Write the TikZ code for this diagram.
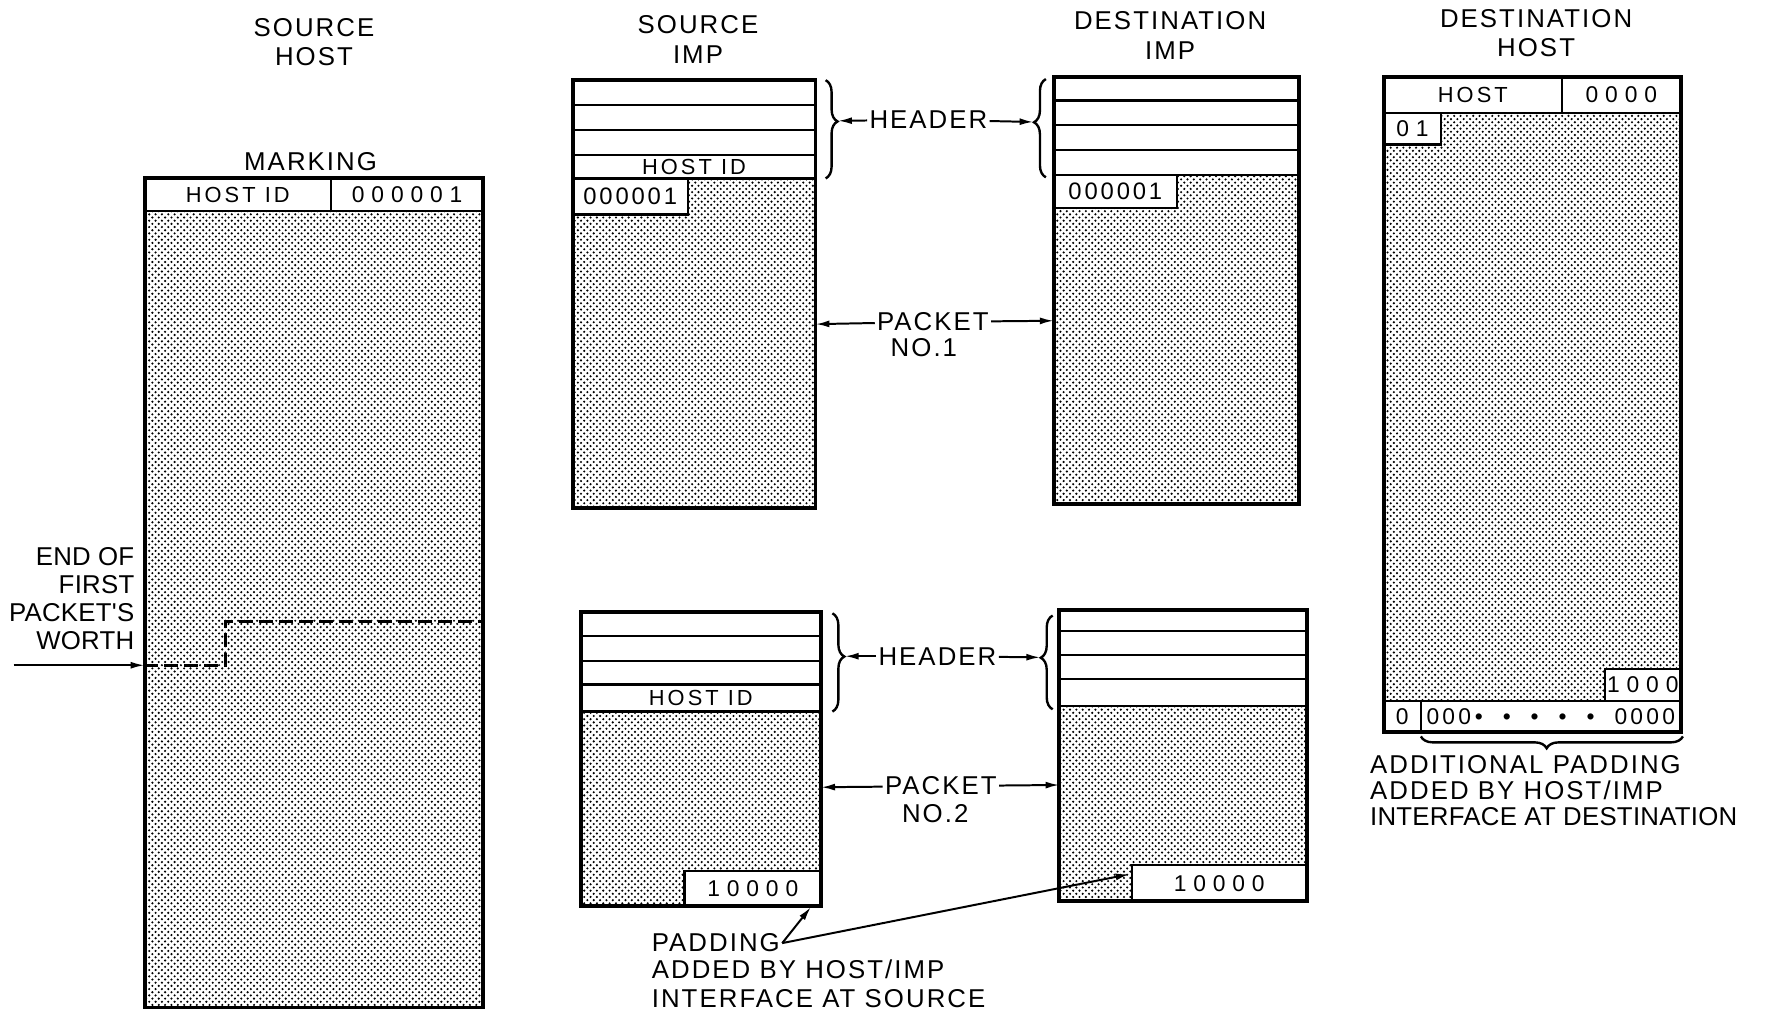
\documentclass[tikz,border=0pt]{standalone}
\usepackage{fontspec}
\setmainfont{Liberation Sans}
\newfontfamily\lettering[LetterSpace=8]{Liberation Sans}
\newfontfamily\plainletters[LetterSpace=1]{Liberation Sans}
\newfontfamily\cellfont[LetterSpace=14]{Liberation Sans}
\newfontfamily\digitfont[LetterSpace=30]{Liberation Sans}
\newfontfamily\tightdigits[LetterSpace=12]{Liberation Sans}
\usetikzlibrary{positioning, arrows.meta, patterns, decorations.pathreplacing}

% dot screen for the packet contents
\pgfdeclarepatternformonly{finedots}{\pgfqpoint{-0.8pt}{-0.8pt}}{\pgfqpoint{2.4pt}{2.4pt}}{\pgfqpoint{3.2pt}{3.2pt}}{%
  \pgfpathcircle{\pgfqpoint{0pt}{0pt}}{0.6pt}%
  \pgfpathcircle{\pgfqpoint{1.6pt}{1.6pt}}{0.6pt}%
  \pgfusepath{fill}}

\tikzset{
  frame/.style={line width=2pt},
  row/.style={line width=1.1pt},
  screen/.style={pattern=finedots},
  cell/.style={draw, line width=1.1pt, fill=white, inner sep=0pt, font=\cellfont\fontsize{11}{13}\selectfont},
  num/.style={font=\digitfont\fontsize{11.5}{13}\selectfont},
  seqnum/.style={font=\tightdigits\fontsize{12}{13}\selectfont},
  title/.style={align=center, inner sep=0pt, font=\lettering\fontsize{13}{14.7}\selectfont},
  lbl/.style={inner sep=1pt, font=\lettering\fontsize{13}{13}\selectfont},
  pointer/.style={-{Latex[length=7pt,width=3.5pt]}, line width=1pt},
  brc/.style={decorate, decoration={brace, amplitude=6pt, aspect=#1}, line width=1.2pt},
  brc/.default=0.5
}

\begin{document}
\begin{tikzpicture}[x=0.02cm, y=-0.02cm]
    \useasboundingbox (0,0) rectangle (1568,901);

    % Titles
    \node[title] (tsh) at (278,37) {SOURCE\\HOST};
    \node[title] (tsi) at (618,35) {SOURCE\\IMP};
    \node[title] (tdi) at (1036,31.5) {DESTINATION\\IMP};
    \node[title] (tdh) at (1360,29) {DESTINATION\\HOST};
    \node[title] (mark) at (275,143) {MARKING};

    % Source host message
    \fill[screen] (128,187) rectangle (428,892);
    \node[cell, minimum width=3.3cm, minimum height=0.58cm] (shid) at (210.5,172.5) {HOST ID};
    \node[cell, num, minimum width=2.7cm, minimum height=0.58cm] (shseq) at (360.5,172.5) {000001};
    \draw[frame] (128,158) rectangle (428,892);
    \draw[line width=1.5pt, dash pattern=on 7pt off 3pt] (128,589) -- (200,589) -- (200,550) -- (428,550);
    \node[lbl, align=right, anchor=east, font=\plainletters\fontsize{13}{14.2}\selectfont] (endlbl) at (121,530) {END OF\\FIRST\\PACKET'S\\WORTH};
    \coordinate (ewtail) at (12,589);
    \coordinate (shedge) at (128,589);
    \draw[pointer] (ewtail) -- (shedge);

    % Source IMP, packet 1
    \fill[screen] (507,158) rectangle (722,450);
    \draw[row] (507,93) -- (722,93) (507,115) -- (722,115) (507,137) -- (722,137);
    \node[cell, minimum width=4.3cm, minimum height=0.42cm] (s1host) at (614.5,147.5) {HOST ID};
    \node[cell, seqnum, minimum width=2.04cm, minimum height=0.64cm] (s1seq) at (558,174) {000001};
    \draw[frame] (507,71) rectangle (722,450);

    % Destination IMP, packet 1
    \fill[screen] (933,155) rectangle (1150,446);
    \draw[row] (933,89) -- (1150,89) (933,111) -- (1150,111) (933,133) -- (1150,133) (933,155) -- (1150,155);
    \node[cell, seqnum, minimum width=2.18cm, minimum height=0.58cm] (d1seq) at (987.5,169.5) {000001};
    \draw[frame] (933,68) rectangle (1150,446);

    % Header and packet 1 labels
    \draw[brc=0.42] (731,71) -- (731,158);
    \draw[brc=0.56] (926,157) -- (926,70);
    \coordinate (s1brace) at (742,107);
    \coordinate (d1brace) at (915,108);
    \node[lbl] (hdr1) at (822,106) {HEADER};
    \draw[pointer] (hdr1) -- (s1brace);
    \draw[pointer] (hdr1) -- (d1brace);
    \node[lbl] (pk1) at (826,285) {PACKET};
    \node[lbl] (pk1no) at (818,308) {NO.1};
    \coordinate (s1edge) at (722,287);
    \coordinate (d1edge) at (933,284);
    \draw[pointer] (pk1) -- (s1edge);
    \draw[pointer] (pk1) -- (d1edge);

    % Source IMP, packet 2
    \fill[screen] (514,630) rectangle (727,802);
    \draw[row] (514,563) -- (727,563) (514,585) -- (727,585) (514,606) -- (727,606);
    \node[cell, minimum width=4.26cm, minimum height=0.48cm] (s2host) at (620.5,618) {HOST ID};
    \node[cell, num, minimum width=2.42cm, minimum height=0.62cm] (s2seq) at (666.5,786.5) {10000};
    \draw[frame] (514,542) rectangle (727,802);

    % Destination IMP, packet 2
    \fill[screen] (938,625) rectangle (1157,798);
    \draw[row] (938,559) -- (1157,559) (938,580) -- (1157,580) (938,601) -- (1157,601) (938,625) -- (1157,625);
    \node[cell, num, minimum width=3.1cm, minimum height=0.64cm] (d2seq) at (1079.5,782) {10000};
    \draw[frame] (938,540) rectangle (1157,798);

    % Header and packet 2 labels
    \draw[brc=0.44] (737,543) -- (737,630);
    \draw[brc=0.55] (932,628) -- (932,545);
    \coordinate (s2brace) at (748,581);
    \coordinate (d2brace) at (921,582);
    \node[lbl] (hdr2) at (830,581) {HEADER};
    \draw[pointer] (hdr2) -- (s2brace);
    \draw[pointer] (hdr2) -- (d2brace);
    \node[lbl] (pk2) at (833,696) {PACKET};
    \node[lbl] (pk2no) at (828,720) {NO.2};
    \coordinate (s2edge) at (727,697);
    \coordinate (d2edge) at (938,695);
    \draw[pointer] (pk2) -- (s2edge);
    \draw[pointer] (pk2) -- (d2edge);

    % Padding at source
    \node[lbl, anchor=west] (padw) at (575,835) {PADDING};
    \node[lbl, anchor=north west, align=left, font=\lettering\fontsize{13}{14.5}\selectfont] (padrest) at (575,848) {ADDED BY HOST/IMP\\INTERFACE AT SOURCE};
    \coordinate (srcpad) at (718,803);
    \coordinate (dstpad) at (1000,774);
    \draw[pointer] (padw.east) -- (srcpad);
    \draw[pointer] (padw.east) -- (dstpad);

    % Destination host message
    \fill[screen] (1225,100) rectangle (1488,621);
    \node[cell, minimum width=3.16cm, minimum height=0.64cm] (dhhost) at (1304,84) {HOST};
    \node[cell, num, minimum width=2.1cm, minimum height=0.64cm] (dhzero) at (1435.5,84) {0000};
    \node[cell, num, minimum width=1.02cm, minimum height=0.56cm] (dhone) at (1250.5,114) {01};
    \node[cell, num, minimum width=1.34cm, minimum height=0.58cm] (dhlast) at (1454.5,606.5) {1000};
    \node[cell, num, minimum width=0.66cm, minimum height=0.54cm] (dhbit) at (1241.5,634.5) {0};
    \node[cell, minimum width=4.6cm, minimum height=0.54cm, text width=4.4cm, align=left, font=\cellfont\fontsize{11.5}{13}\selectfont] (dhpad) at (1373,634.5)
        {000\,\textbullet\hspace{\fill}\textbullet\hspace{\fill}\textbullet\hspace{\fill}\textbullet\hspace{\fill}\textbullet\hspace{\fill}0000};
    \draw[frame] (1225,68) rectangle (1488,648);
    \draw[brc=0.52] (1490,652) -- (1258,652);
    \node[lbl, anchor=north west, align=left, font=\lettering\fontsize{13}{13}\selectfont] (addpad) at (1211,667) {ADDITIONAL PADDING\\ADDED BY HOST/IMP\\{\plainletters INTERFACE AT DESTINATION}};
\end{tikzpicture}
\end{document}
